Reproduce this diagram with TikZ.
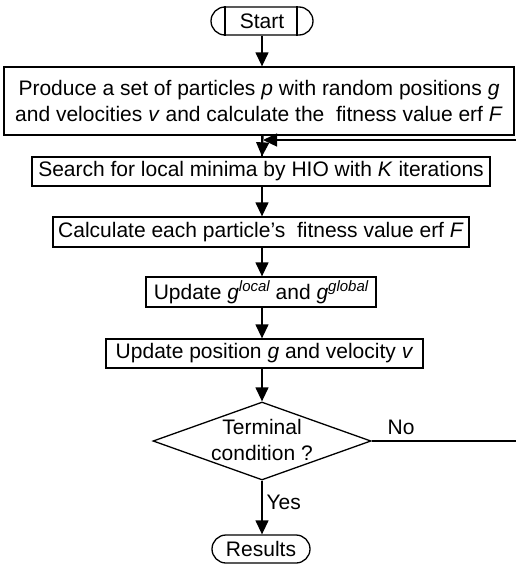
\documentclass[tikz,border=0pt]{standalone}
\usepackage{fontspec}
\setmainfont{Liberation Sans}
\usetikzlibrary{arrows.meta,shapes.geometric}
\begin{document}
\begin{tikzpicture}[x=1pt,y=-1pt,line width=1.3pt,
  font=\fontsize{21}{26}\selectfont,
  box/.style={draw,rectangle,inner sep=0pt,align=center},
  term/.style={draw,rectangle,rounded corners=14pt,inner sep=0pt,minimum height=28pt},
  arr/.style={-{Triangle[width=13pt,length=14pt]}},
  lbl/.style={inner sep=0pt,anchor=west}]
\useasboundingbox (0,0) rectangle (516,565);
\newcommand{\supit}[1]{\raisebox{7.5pt}{\fontsize{15}{15}\selectfont\itshape #1}}
\node[term,minimum width=102pt] (start) at (262,21) {Start};
\draw ([xshift=-37pt]start.north) -- ([xshift=-37pt]start.south);
\draw ([xshift=35pt]start.north) -- ([xshift=35pt]start.south);
\node[box,minimum width=510pt,minimum height=68pt] (b1) at (259,101)
  {Produce a set of particles \textit{p} with random positions \textit{g}\\
   and velocities \textit{v} and calculate the\ \ fitness value erf \textit{F}};
\node[box,minimum width=458pt,minimum height=29pt] (b2) at (261,171.5)
  {Search for local minima by HIO with \textit{K} iterations};
\node[box,minimum width=416pt,minimum height=30pt] (b3) at (261,232)
  {Calculate each particle’s\ \ fitness value erf \textit{F}};
\node[box,minimum width=230pt,minimum height=30pt] (b4) at (261,292)
  {Update \textit{g}\supit{local} and \textit{g}\supit{global}};
\node[box,minimum width=317pt,minimum height=29pt] (b5) at (264.5,353.5)
  {Update position \textit{g} and velocity \textit{v}};
\node[draw,diamond,inner sep=0pt,minimum width=218pt,minimum height=78pt] (dia) at (262,441) {};
\node[align=center,inner sep=0pt] (diatext) at (262,440) {Terminal\\condition ?};
\node[term,minimum width=98pt] (res) at (261,549) {Results};
\coordinate (fbR) at (519,140);
\coordinate (fbJ) at (263,140);
\draw[arr] (start.south) -- (start.south |- b1.north);
\draw (b1.south -| start.south) -- (start.south |- b2.north);
\draw[arr] (fbJ |- b1.south) -- (start.south |- b2.north);
\draw[arr] (start.south |- b2.south) -- (start.south |- b3.north);
\draw[arr] (start.south |- b3.south) -- (start.south |- b4.north);
\draw[arr] (start.south |- b4.south) -- (start.south |- b5.north);
\draw[arr] (start.south |- b5.south) -- (dia.north);
\draw[arr] (dia.south) -- (dia.south |- res.north);
\draw[arr] (dia.east) -- (dia.east -| fbR) -- (fbR) -- (fbJ);
\node[lbl] (no) at (387,427) {No};
\node[lbl] (yes) at (266,502) {Yes};
\end{tikzpicture}
\end{document}
